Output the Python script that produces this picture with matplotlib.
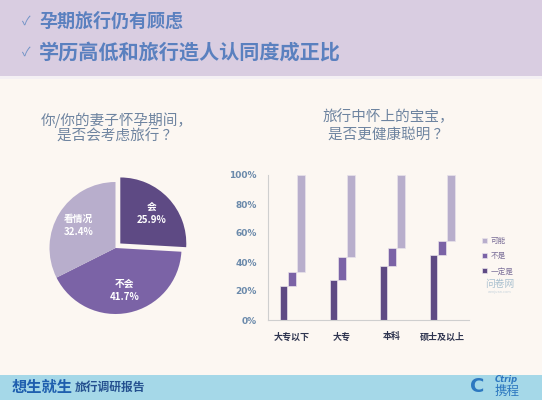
import matplotlib
matplotlib.use('Agg')
import matplotlib.pyplot as plt
from matplotlib.patches import Rectangle
import numpy as np

plt.rcParams['font.family'] = ['Noto Sans CJK SC', 'DejaVu Sans']

# --- データ ---
headlines = ['孕期旅行仍有顾虑', '学历高低和旅行造人认同度成正比']

pie_title = ['你/你的妻子怀孕期间，', '是否会考虑旅行 ？']
pie_labels = ['会', '不会', '看情况']
pie_values = [25.9, 41.7, 32.4]

bar_title = ['旅行中怀上的宝宝，', '是否更健康聪明 ？']
edu_levels = ['大专以下', '大专', '本科', '硕士及以上']
sure_yes = [23.7, 27.6, 37.2, 44.8]   # 一定是
not_yes = [9.2, 15.6, 12.2, 9.9]      # 不是
maybe = [67.1, 56.8, 50.6, 45.3]      # 可能
y_ticks = [0, 20, 40, 60, 80, 100]

footer_main = '想生就生'
footer_sub = '旅行调研报告'

BG = '#fcf7f2'
DARK = '#5e4a84'
MID = '#7b63a6'
LIGHT = '#b8aecc'
TITLE_C = '#6e84a0'

W, H = 542, 400
fig = plt.figure(figsize=(W / 100, H / 100), dpi=100, facecolor=BG)

def fx(px):
    return px / W

def fy(py):
    return 1 - py / H

# ヘッダー / フッター帯
fig.patches.append(Rectangle((0, fy(76)), 1, 76 / H, transform=fig.transFigure,
                             facecolor='#d9cde1', edgecolor='none', zorder=0))
fig.patches.append(Rectangle((0, fy(79)), 1, 3 / H, transform=fig.transFigure,
                             facecolor='#f4f0f4', edgecolor='none', zorder=0))
fig.patches.append(Rectangle((0, 0), 1, 25 / H, transform=fig.transFigure,
                             facecolor='#a5d8e8', edgecolor='none', zorder=0))

for (yy, txt, fs) in zip([21, 52], headlines, [13, 14.5]):
    fig.text(fx(22), fy(yy), '✓', fontsize=9, color='#6f92c6', va='center', ha='left')
    fig.text(fx(39), fy(yy), txt, fontsize=fs, color='#5a80bf', fontweight='bold',
             va='center', ha='left')

fig.text(fx(12), fy(387), footer_main, fontsize=11, color='#1f5fae', fontweight='heavy',
         style='italic', va='center', ha='left')
fig.text(fx(75), fy(387), footer_sub, fontsize=8.5, color='#24508f', fontweight='bold',
         va='center', ha='left')
fig.text(fx(495), fy(380), 'Ctrip', fontsize=6, color='#2d78c0', fontweight='bold',
         style='italic', va='center', ha='left', family='DejaVu Sans')
fig.text(fx(494), fy(391), '携程', fontsize=9, color='#2d78c0', va='center', ha='left')
fig.text(fx(470), fy(386), 'C', fontsize=14, color='#2d78c0', fontweight='bold',
         va='center', ha='left', family='DejaVu Sans')

# --- 円グラフ ---
for yy, t in zip([120, 137], pie_title):
    fig.text(fx(117), fy(yy), t, fontsize=10.5, color=TITLE_C, ha='center', va='center')

S = 170
R = 66
ax_pie = fig.add_axes([fx(115.5 - S / 2), fy(248 + S / 2), S / W, S / H])
ax_pie.set_facecolor('none')
lim = S / 2 / R

def fmt(i):
    return '%s\n%.1f%%' % (pie_labels[i], pie_values[i])

wedges, _ = ax_pie.pie(pie_values, colors=[DARK, MID, LIGHT], startangle=90,
                       counterclock=False, explode=[0.1, 0, 0],
                       wedgeprops=dict(edgecolor='none'))
for i, w in enumerate(wedges):
    ang = np.deg2rad((w.theta1 + w.theta2) / 2)
    cx, cy = w.center
    ax_pie.text(cx + 0.66 * np.cos(ang), cy + 0.66 * np.sin(ang), fmt(i),
                ha='center', va='center', fontsize=7, color='white',
                fontweight='bold', linespacing=1.4)
ax_pie.set_xlim(-lim, lim)
ax_pie.set_ylim(-lim, lim)
ax_pie.set_aspect('equal')
ax_pie.axis('off')

# --- 棒グラフ ---
for yy, t in zip([117, 135], bar_title):
    fig.text(fx(388), fy(yy), t, fontsize=10.5, color=TITLE_C, ha='center', va='center')

ax = fig.add_axes([fx(267.7), fy(320), (469 - 267.7) / W, 145 / H])
ax.set_facecolor('none')
x = np.arange(len(edu_levels))
bw = 0.15
bottom2 = np.array(sure_yes)
bottom3 = bottom2 + np.array(not_yes)
b1 = ax.bar(x - 0.17, sure_yes, bw, color=DARK, edgecolor='#e8e2ea', linewidth=0.5,
            label='一定是')
b2 = ax.bar(x, not_yes, bw, bottom=bottom2, color=MID, edgecolor='#e8e2ea',
            linewidth=0.5, label='不是')
b3 = ax.bar(x + 0.175, maybe, bw, bottom=bottom3, color=LIGHT, edgecolor='#e8e2ea',
            linewidth=0.5, label='可能')

ax.set_xlim(-0.486, 3.54)
ax.set_ylim(0, 100)
ax.set_yticks(y_ticks)
ax.set_yticklabels(['%d%%' % v for v in y_ticks], fontsize=6.5, color='#6b8aab',
                   fontweight='bold', family='DejaVu Sans')
ax.set_xticks(x)
ax.set_xticklabels(edu_levels, fontsize=6.5, color='#2f3550', fontweight='bold')
ax.tick_params(length=0, pad=8)
ax.tick_params(axis='x', pad=9)
for s in ['top', 'right']:
    ax.spines[s].set_visible(False)
for s in ['left', 'bottom']:
    ax.spines[s].set_color('#cfcfcf')
    ax.spines[s].set_linewidth(0.8)

leg = fig.legend([b3, b2, b1], ['可能', '不是', '一定是'], loc='upper left',
                 bbox_to_anchor=(fx(479), fy(234)), frameon=False, fontsize=5.5,
                 handlelength=0.6, handleheight=0.6, handletextpad=0.5,
                 labelspacing=0.95, borderaxespad=0)
for t in leg.get_texts():
    t.set_color('#7a6e98')

fig.text(fx(500), fy(284), '问卷网', fontsize=7, color='#a9c0cf', ha='center', va='center')
fig.text(fx(500), fy(292), 'wenjuan.com', fontsize=2.5, color='#c4d2dc', ha='center',
         va='center', family='DejaVu Sans')

fig.savefig('out.png', dpi=100, facecolor=BG)
